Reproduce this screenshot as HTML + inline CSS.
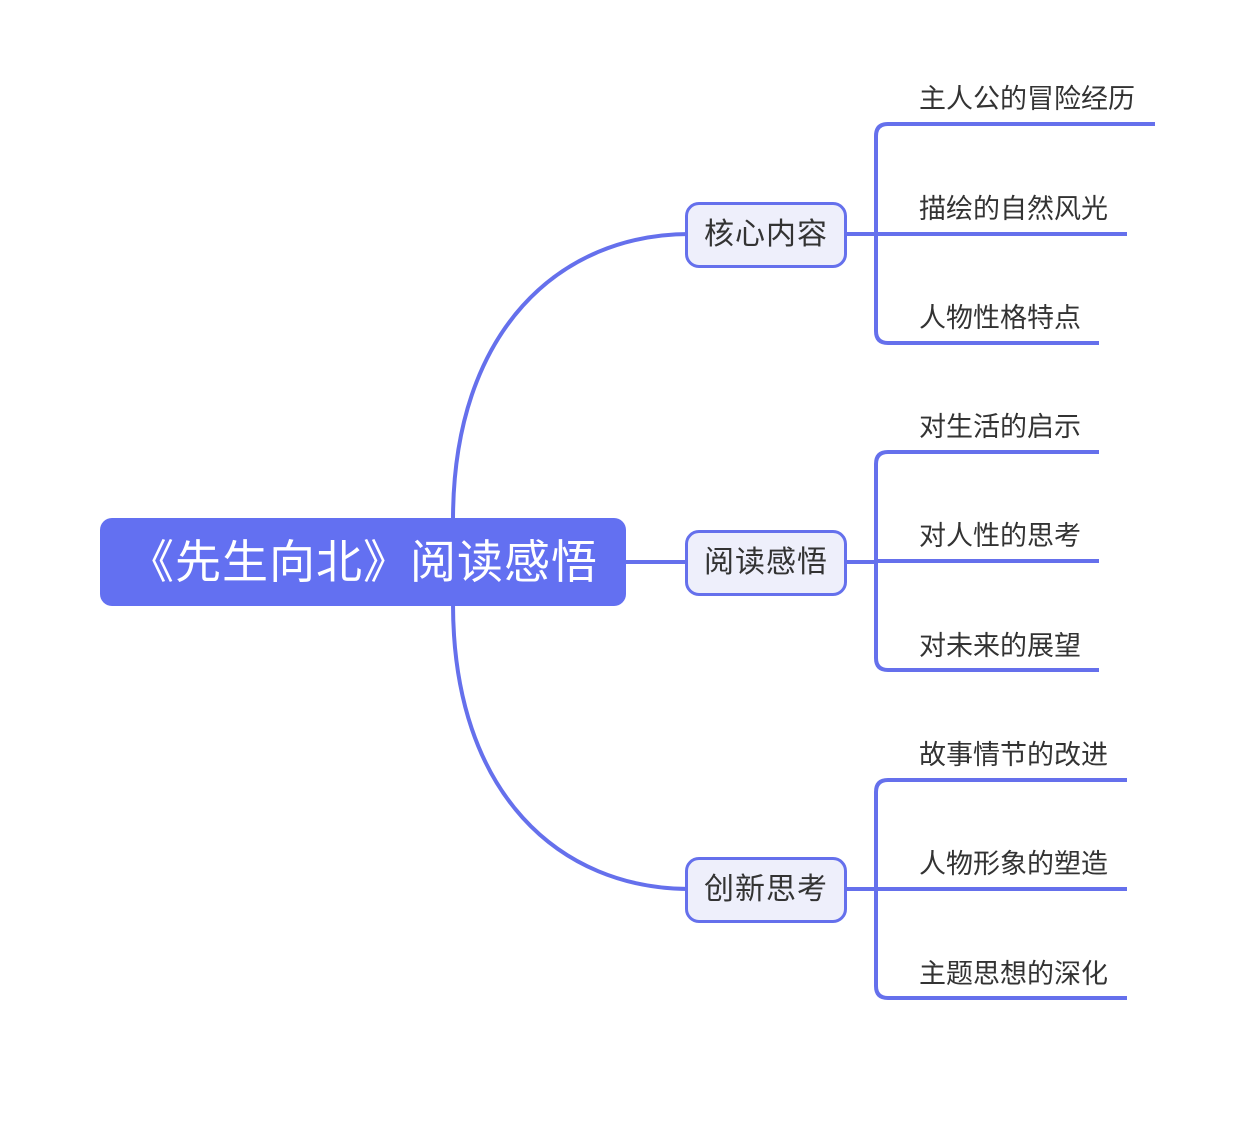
<!DOCTYPE html>
<html><head><meta charset="utf-8"><style>
html,body{margin:0;padding:0;background:#fff;}
body{width:1252px;height:1124px;position:relative;overflow:hidden;font-family:"Liberation Sans","Noto Sans CJK SC",sans-serif;}
svg{position:absolute;left:0;top:0;}
.root{position:absolute;left:100px;top:518px;width:526px;height:88px;background:#6370f1;border-radius:12px;color:#fff;font-size:46px;line-height:88px;text-align:center;letter-spacing:1px;}
.node{position:absolute;left:686px;width:156px;height:60px;border:3px solid #6570ec;border-radius:14px;background:#eeeffb;box-sizing:content-box;font-size:30px;letter-spacing:1px;line-height:60px;text-align:center;color:#333;margin-left:-1px;}
.leaf{position:absolute;left:919px;font-size:27px;color:#333;line-height:30px;}
</style></head><body>
<svg width="1252" height="1124" fill="none" stroke="#6570ec" stroke-width="4">
<path d="M453,520 C453,330 560,234 690,234"/>
<path d="M453,604 C453,794 560,889 690,889"/>
<path d="M626,562 L690,562"/>
<path d="M842,234 L876,234 M842,562 L876,562 M842,889 L876,889"/>
<path d="M1155,124 L888,124 Q876,124 876,136 L876,331 Q876,343 888,343 L1099,343 M876,234 L1127,234"/>
<path d="M1099,452 L888,452 Q876,452 876,464 L876,658 Q876,670 888,670 L1099,670 M876,561 L1099,561"/>
<path d="M1127,780 L888,780 Q876,780 876,792 L876,986 Q876,998 888,998 L1127,998 M876,889 L1127,889"/>
</svg>
<div class="root">《先生向北》阅读感悟</div>
<div class="node" style="top:202px">核心内容</div>
<div class="node" style="top:530px">阅读感悟</div>
<div class="node" style="top:857px">创新思考</div>
<div class="leaf" style="top:84px">主人公的冒险经历</div>
<div class="leaf" style="top:194px">描绘的自然风光</div>
<div class="leaf" style="top:303px">人物性格特点</div>
<div class="leaf" style="top:412px">对生活的启示</div>
<div class="leaf" style="top:521px">对人性的思考</div>
<div class="leaf" style="top:631px">对未来的展望</div>
<div class="leaf" style="top:740px">故事情节的改进</div>
<div class="leaf" style="top:849px">人物形象的塑造</div>
<div class="leaf" style="top:959px">主题思想的深化</div>
</body></html>
